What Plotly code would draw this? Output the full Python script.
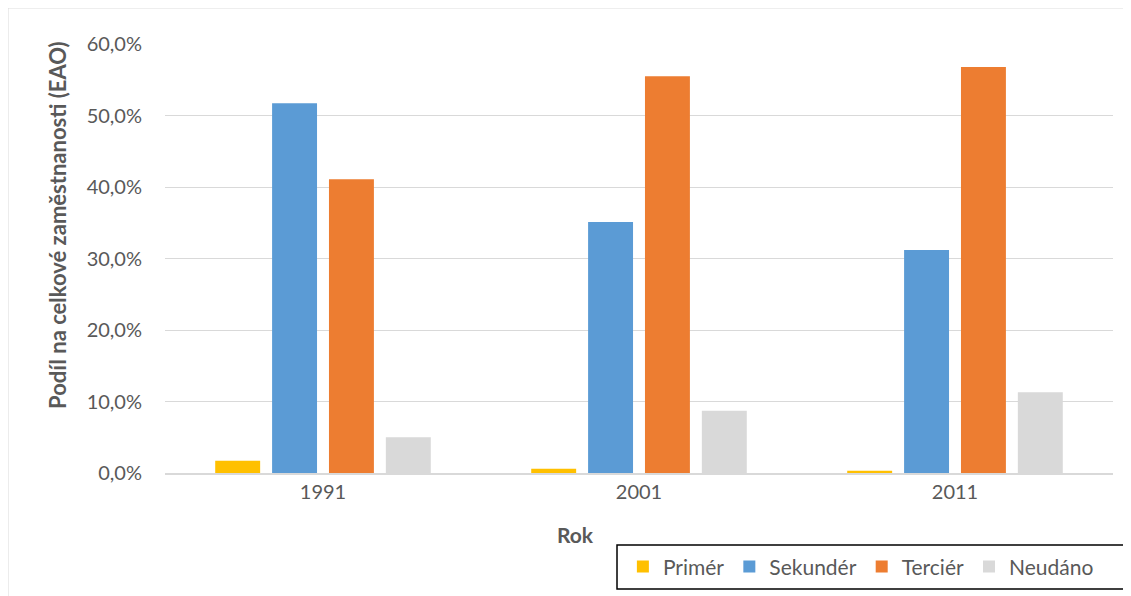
import plotly.graph_objects as go

years = ["1991", "2001", "2011"]
primer = [0.017, 0.006, 0.003]
sekunder = [0.517, 0.351, 0.312]
tercier = [0.411, 0.555, 0.568]
neudano = [0.050, 0.087, 0.113]

series = [
    ("Primér", primer, "#FFC000"),
    ("Sekundér", sekunder, "#5B9BD5"),
    ("Terciér", tercier, "#ED7D31"),
    ("Neudáno", neudano, "#D9D9D9"),
]

FONT = "Lato, 'Open Sans', sans-serif"
fig = go.Figure()
for name, vals, col in series:
    fig.add_trace(go.Bar(x=years, y=vals, name=name, marker_color=col,
                         marker_line_width=0))

fig.update_layout(
    width=1123, height=588,
    margin=dict(l=157, r=18, t=36, b=123, autoexpand=False),
    paper_bgcolor="white", plot_bgcolor="white",
    barmode="group", bargap=0.28, bargroupgap=0.21,
    separators=",.",
    font=dict(family=FONT, color="#595959", size=20),
    showlegend=True,
    legend=dict(orientation="h", x=0.483, xanchor="left", y=-0.219, yanchor="middle",
                borderwidth=0, bgcolor="rgba(0,0,0,0)",
                font=dict(size=21, color="#595959"), traceorder="normal"),
)
fig.update_yaxes(range=[0, 0.6], dtick=0.1, tickformat=".1%", gridcolor="#D9D9D9",
                 gridwidth=1, zeroline=False, showline=False, ticks="",
                 ticklabelstandoff=22)
fig.update_xaxes(showline=True, linecolor="#D9D9D9", linewidth=2, ticks="",
                 showgrid=False)

fig.add_annotation(text="<b>Rok</b>", xref="paper", yref="paper", x=0.4325, y=-0.1445,
                   xanchor="center", yanchor="middle",
                   showarrow=False, font=dict(size=21, color="#595959"))
fig.add_annotation(text="<b>Podíl na celkové zaměstnanosti (EAO)</b>", xref="paper",
                   yref="paper", x=-0.114, y=0.578, xanchor="center", yanchor="middle",
                   textangle=-90, showarrow=False,
                   font=dict(size=22, color="#595959"))
# outer chart frame
fig.add_shape(type="line", xref="paper", yref="paper", x0=-0.1656, y0=1.084, x1=1.02, y1=1.084,
              line=dict(color="#D9D9D9", width=1))
fig.add_shape(type="line", xref="paper", yref="paper", x0=-0.1656, y0=1.084, x1=-0.1656, y1=-0.3,
              line=dict(color="#D9D9D9", width=1))
# legend frame
fig.add_shape(type="rect", xref="paper", yref="paper", x0=0.4768, x1=1.0158, y0=-0.2704, y1=-0.1678,
              line=dict(color="black", width=1.5))

fig.write_html("out.html")
